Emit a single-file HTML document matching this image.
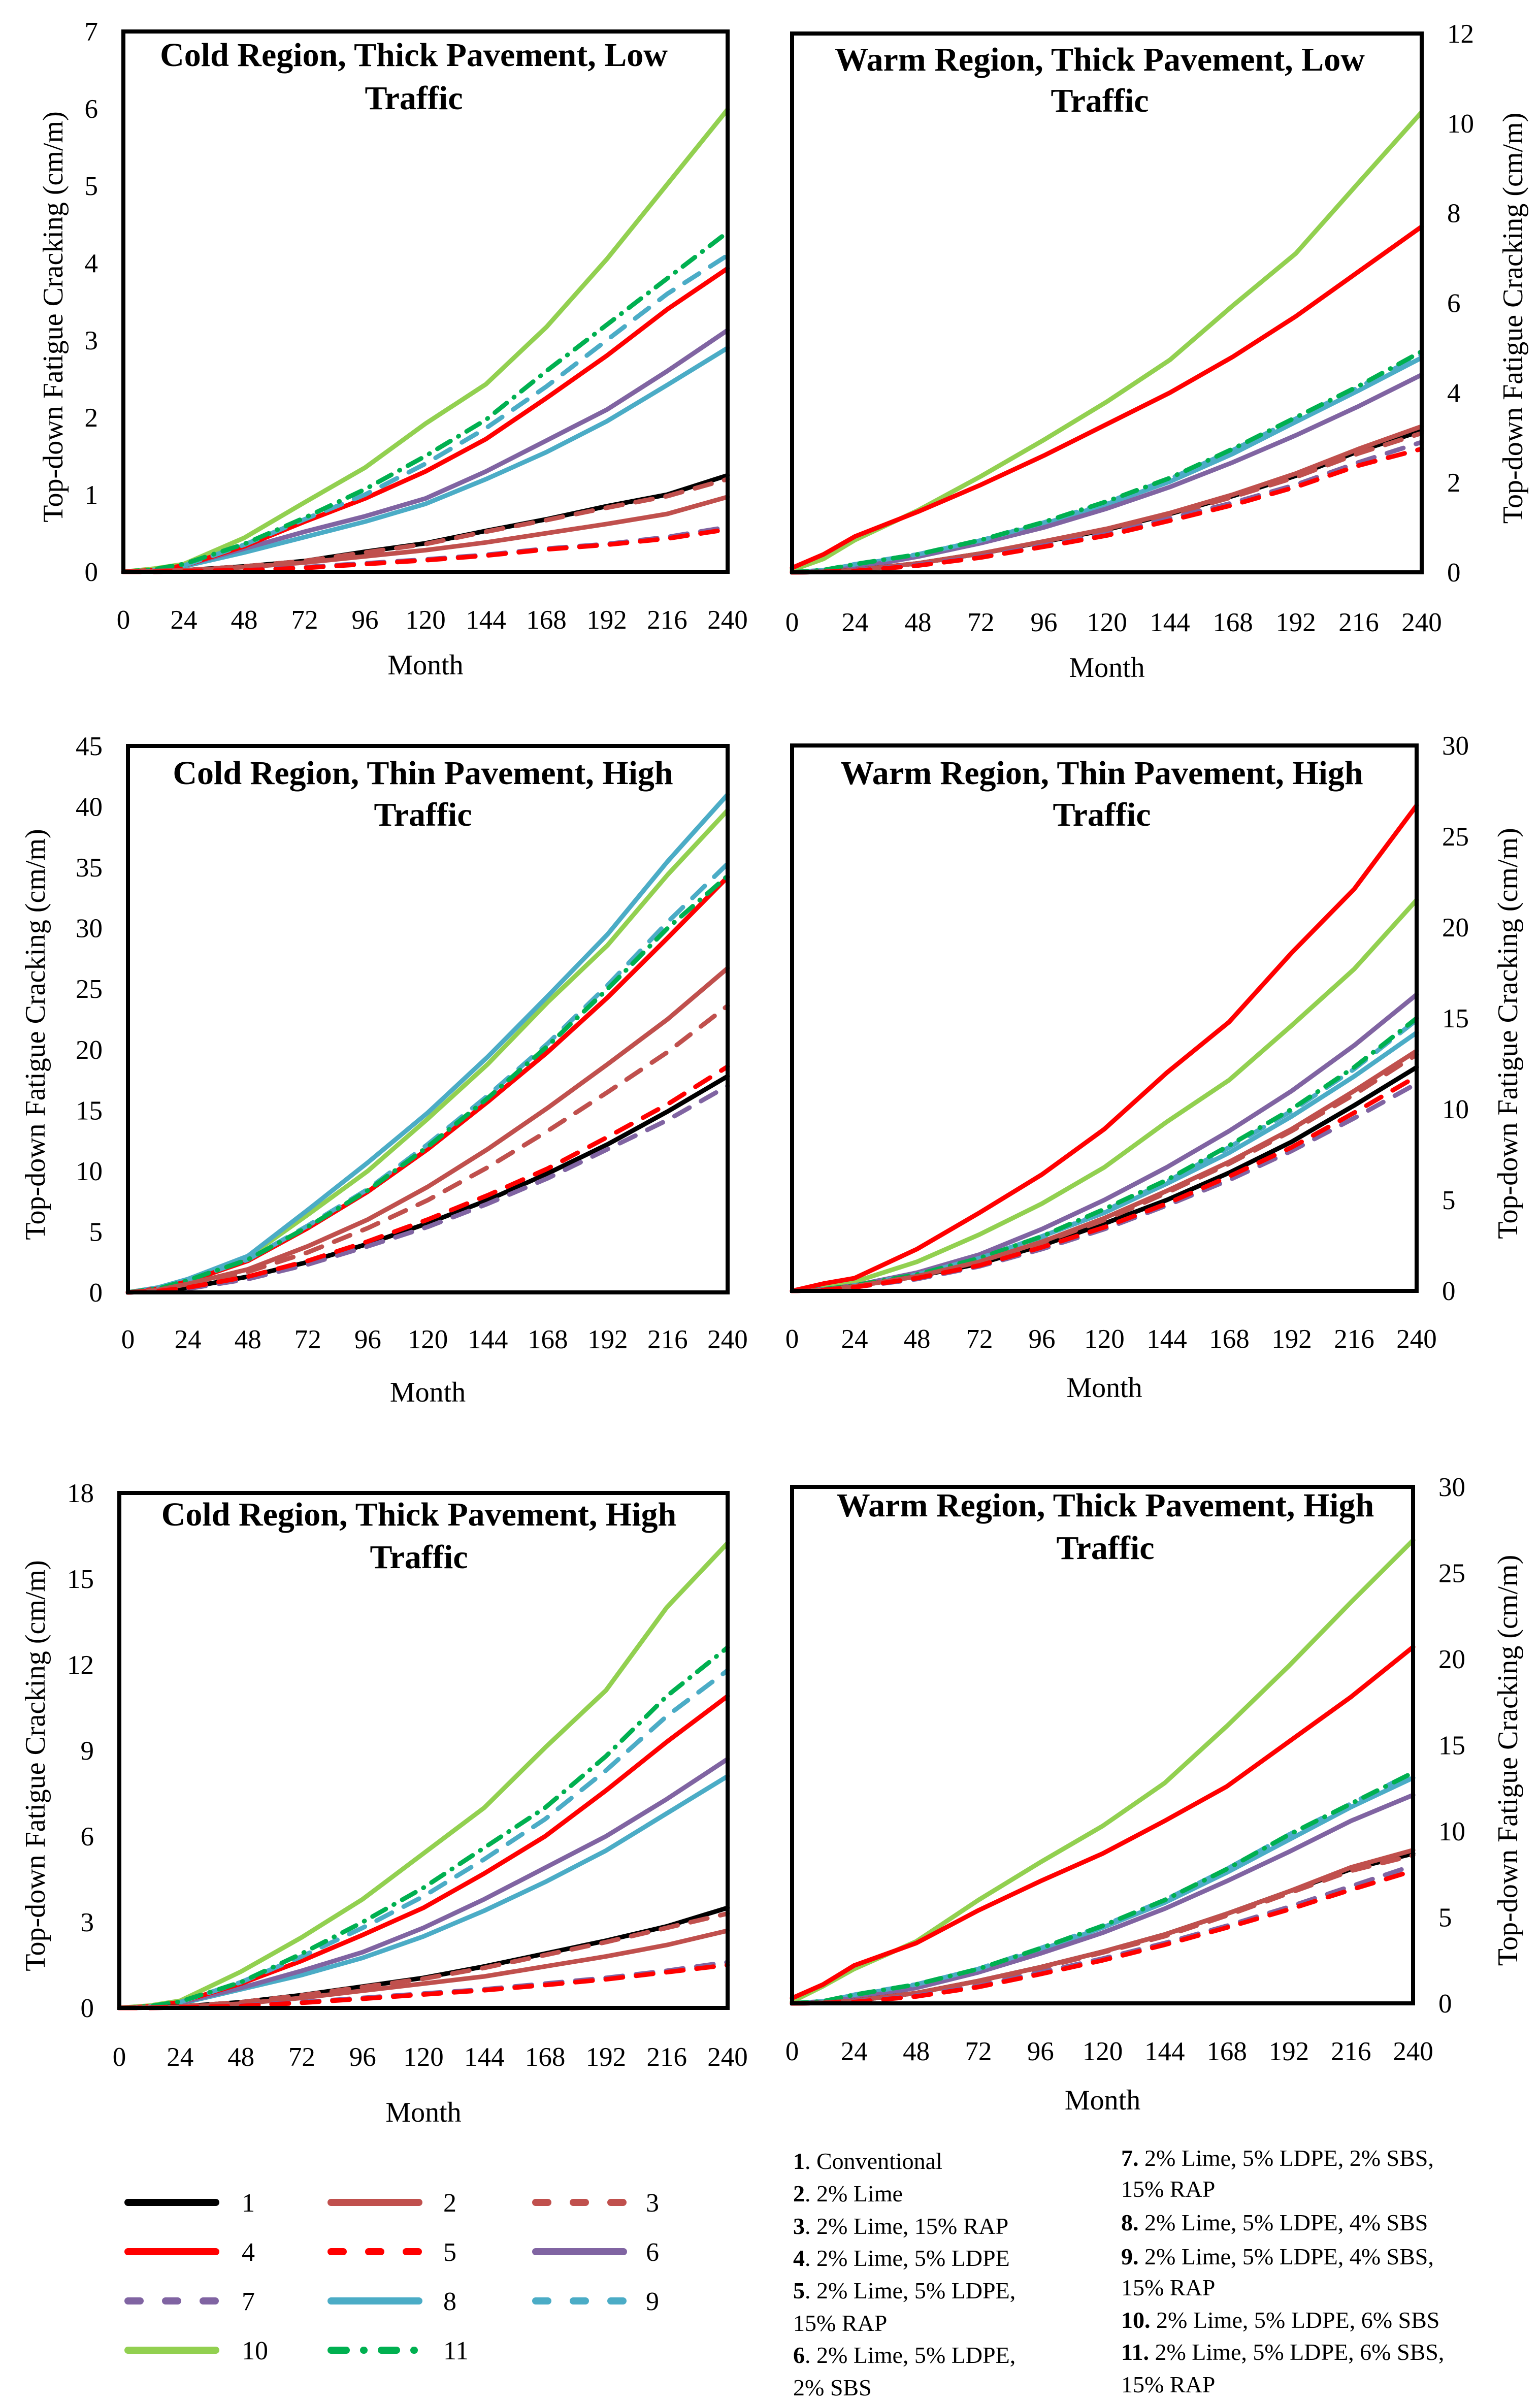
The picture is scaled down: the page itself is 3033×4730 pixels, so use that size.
<!DOCTYPE html>
<html><head><meta charset="utf-8">
<style>
html,body{margin:0;padding:0;background:#fff;}
svg{display:block;}
text{font-family:"Liberation Serif",serif;fill:#000;}
</style></head>
<body>
<svg id="fig" width="3033" height="4730" viewBox="0 0 3033 4730" xmlns="http://www.w3.org/2000/svg"></svg>
<script>
// ---- shared data ----
const months = [0,12,24,48,72,96,120,144,168,192,216,240];
const xTicks = [0,24,48,72,96,120,144,168,192,216,240];
const seriesIds = ['1','2','3','4','5','6','7','8','9','10','11'];
const seriesNames = ['Conventional','2% Lime','2% Lime, 15% RAP','2% Lime, 5% LDPE','2% Lime, 5% LDPE, 15% RAP','2% Lime, 5% LDPE, 2% SBS','2% Lime, 5% LDPE, 2% SBS, 15% RAP','2% Lime, 5% LDPE, 4% SBS','2% Lime, 5% LDPE, 4% SBS, 15% RAP','2% Lime, 5% LDPE, 6% SBS','2% Lime, 5% LDPE, 6% SBS, 15% RAP'];

// Panel 1: Cold, thick, low  (series 1..11)
const p1s1 = [0,0.01,0.02,0.07,0.14,0.26,0.37,0.53,0.68,0.85,1.0,1.25];
const p1s2 = [0,0.01,0.02,0.06,0.12,0.2,0.28,0.38,0.5,0.62,0.75,0.97];
const p1s3 = [0,0.01,0.02,0.07,0.14,0.25,0.36,0.52,0.67,0.83,0.98,1.2];
const p1s4 = [0,0.02,0.08,0.33,0.65,0.95,1.3,1.72,2.25,2.8,3.4,3.93];
const p1s5 = [0,0,0.01,0.02,0.05,0.1,0.15,0.21,0.29,0.35,0.43,0.55];
const p1s6 = [0,0.02,0.08,0.3,0.52,0.72,0.95,1.3,1.7,2.1,2.6,3.13];
const p1s7 = [0,0,0.01,0.02,0.06,0.11,0.16,0.22,0.3,0.36,0.45,0.58];
const p1s8 = [0,0.02,0.07,0.25,0.45,0.65,0.88,1.2,1.55,1.95,2.42,2.9];
const p1s9 = [0,0.02,0.08,0.35,0.68,1.0,1.4,1.86,2.4,3.0,3.6,4.1];
const p1s10 = [0,0.04,0.1,0.44,0.9,1.35,1.92,2.43,3.17,4.05,5.02,5.99];
const p1s11 = [0,0.03,0.1,0.36,0.7,1.07,1.5,1.97,2.6,3.2,3.8,4.4];
// Panel 2: Warm, thick, low
const p2s1 = [0,0.01,0.05,0.2,0.42,0.68,0.95,1.3,1.7,2.15,2.7,3.15];
const p2s2 = [0,0.01,0.05,0.2,0.42,0.69,0.97,1.32,1.73,2.2,2.75,3.25];
const p2s3 = [0,0.01,0.05,0.19,0.41,0.67,0.94,1.28,1.68,2.12,2.65,3.1];
const p2s4 = [0.1,0.4,0.8,1.35,1.95,2.6,3.3,4.0,4.8,5.7,6.7,7.7];
const p2s5 = [0,0.01,0.03,0.15,0.33,0.57,0.82,1.15,1.5,1.9,2.38,2.75];
const p2s6 = [0,0.03,0.1,0.35,0.65,1.0,1.42,1.9,2.45,3.05,3.7,4.4];
const p2s7 = [0,0.01,0.04,0.17,0.35,0.6,0.85,1.2,1.55,1.95,2.45,2.9];
const p2s8 = [0,0.05,0.17,0.38,0.69,1.08,1.52,2.02,2.64,3.35,4.05,4.78];
const p2s9 = [0,0.05,0.18,0.4,0.71,1.11,1.56,2.08,2.72,3.42,4.12,4.85];
const p2s10 = [0.05,0.3,0.72,1.38,2.14,2.95,3.8,4.73,5.94,7.1,8.68,10.25];
const p2s11 = [0,0.05,0.18,0.4,0.72,1.12,1.58,2.1,2.75,3.45,4.15,4.92];
// Panel 3: Cold, thin, high
const p3s1 = [0,0.1,0.4,1.3,2.5,4.0,5.7,7.6,9.8,12.2,14.9,17.8];
const p3s2 = [0,0.2,0.7,1.9,3.8,6.0,8.7,11.8,15.2,18.8,22.5,26.7];
const p3s3 = [0,0.2,0.6,1.7,3.3,5.3,7.6,10.3,13.3,16.5,19.8,23.6];
const p3s4 = [0,0.3,0.9,2.6,5.3,8.3,11.8,15.7,19.8,24.3,29.2,34.2];
const p3s5 = [0,0.1,0.4,1.3,2.6,4.2,6.0,8.0,10.2,12.8,15.5,18.6];
const p3s6 = [0,0.3,0.9,2.6,5.3,8.3,11.8,15.7,19.8,24.3,29.2,34.2];
const p3s7 = [0,0.1,0.3,1.1,2.3,3.8,5.4,7.3,9.4,11.8,14.2,17.0];
const p3s8 = [0,0.4,1.1,3.0,6.8,10.7,14.8,19.4,24.4,29.5,35.5,41.0];
const p3s9 = [0,0.3,1.0,2.7,5.5,8.5,12.2,16.2,20.5,25.3,30.5,35.3];
const p3s10 = [0,0.4,1.0,2.9,6.4,10.0,14.3,18.8,23.9,28.6,34.4,39.7];
const p3s11 = [0,0.3,1.0,2.7,5.4,8.4,12.0,16.0,20.3,25.0,30.0,34.3];
// Panel 4: Warm, thin, high
const p4s1 = [0,0.05,0.25,0.8,1.5,2.5,3.7,5.0,6.5,8.2,10.2,12.3];
const p4s2 = [0,0.05,0.25,0.8,1.6,2.7,4.0,5.5,7.1,8.9,11.0,13.2];
const p4s3 = [0,0.05,0.25,0.8,1.55,2.65,3.9,5.4,7.0,8.8,10.8,13.0];
const p4s4 = [0,0.4,0.7,2.3,4.3,6.4,8.9,12.0,14.8,18.6,22.1,26.7];
const p4s5 = [0,0.05,0.2,0.7,1.4,2.4,3.5,4.8,6.3,7.9,9.8,11.8];
const p4s6 = [0,0.08,0.3,1.0,2.0,3.4,5.0,6.8,8.8,11.0,13.5,16.3];
const p4s7 = [0,0.05,0.2,0.65,1.35,2.3,3.4,4.7,6.1,7.7,9.5,11.4];
const p4s8 = [0,0.08,0.3,0.9,1.8,3.0,4.3,5.9,7.6,9.6,11.8,14.2];
const p4s9 = [0,0.08,0.3,0.9,1.8,2.95,4.4,6.0,7.9,9.9,12.2,14.9];
const p4s10 = [0,0.2,0.5,1.6,3.1,4.8,6.8,9.3,11.6,14.6,17.7,21.5];
const p4s11 = [0,0.08,0.3,0.9,1.8,3.0,4.5,6.1,8.0,10.0,12.3,15.0];
// Panel 5: Cold, thick, high
const p5s1 = [0,0.01,0.05,0.2,0.45,0.75,1.05,1.45,1.9,2.35,2.85,3.5];
const p5s2 = [0,0.01,0.04,0.15,0.35,0.6,0.85,1.1,1.45,1.8,2.2,2.7];
const p5s3 = [0,0.01,0.05,0.2,0.44,0.73,1.02,1.4,1.85,2.3,2.8,3.3];
const p5s4 = [0,0.05,0.2,0.85,1.65,2.55,3.5,4.7,6.0,7.6,9.3,10.9];
const p5s5 = [0,0,0.02,0.07,0.18,0.32,0.47,0.62,0.8,1.0,1.25,1.5];
const p5s6 = [0,0.05,0.18,0.7,1.3,1.95,2.8,3.8,4.9,6.0,7.3,8.7];
const p5s7 = [0,0,0.02,0.08,0.2,0.35,0.5,0.65,0.85,1.05,1.3,1.6];
const p5s8 = [0,0.04,0.15,0.65,1.15,1.75,2.5,3.4,4.4,5.5,6.8,8.1];
const p5s9 = [0,0.05,0.2,0.9,1.8,2.8,3.9,5.2,6.6,8.3,10.2,11.8];
const p5s10 = [0,0.08,0.25,1.27,2.47,3.8,5.4,7.0,9.1,11.1,14.0,16.25];
const p5s11 = [0,0.06,0.22,0.9,1.9,3.0,4.2,5.6,7.0,8.8,10.9,12.6];
// Panel 6: Warm, thick, high
const p6s1 = [0,0.03,0.15,0.6,1.3,2.1,3.0,4.0,5.2,6.5,7.8,8.7];
const p6s2 = [0,0.03,0.15,0.6,1.3,2.1,3.0,4.0,5.2,6.5,7.9,8.9];
const p6s3 = [0,0.03,0.14,0.58,1.27,2.05,2.95,3.9,5.1,6.4,7.7,8.6];
const p6s4 = [0.3,1.1,2.2,3.5,5.4,7.1,8.7,10.6,12.6,15.2,17.8,20.7];
const p6s5 = [0,0.02,0.08,0.4,0.95,1.7,2.5,3.4,4.4,5.45,6.6,7.7];
const p6s6 = [0,0.08,0.3,0.9,1.8,2.9,4.1,5.5,7.1,8.8,10.6,12.1];
const p6s7 = [0,0.02,0.1,0.45,1.0,1.8,2.6,3.5,4.5,5.6,6.8,8.0];
const p6s8 = [0,0.12,0.48,1.05,1.95,3.1,4.4,5.85,7.6,9.5,11.4,13.1];
const p6s9 = [0,0.12,0.5,1.1,2.0,3.2,4.5,6.0,7.8,9.8,11.6,13.4];
const p6s10 = [0.1,1.0,2.0,3.6,6.0,8.2,10.3,12.8,16.1,19.6,23.3,26.9];
const p6s11 = [0,0.12,0.5,1.1,2.0,3.2,4.5,6.0,7.8,9.8,11.6,13.4];

// y-axis tick labels per panel
const p1Ticks = [0,1,2,3,4,5,6,7];
const p2Ticks = [0,2,4,6,8,10,12];
const p3Ticks = [0,5,10,15,20,25,30,35,40,45];
const p4Ticks = [0,5,10,15,20,25,30];
const p5Ticks = [0,3,6,9,12,15,18];
const p6Ticks = [0,5,10,15,20,25,30];

// ---- styles (not data) ----
const styles = [
 {c:'#000000',d:null},
 {c:'#C0504D',d:null},
 {c:'#C0504D',d:'34 26'},
 {c:'#FF0000',d:null},
 {c:'#FF0000',d:'34 26'},
 {c:'#8064A2',d:null},
 {c:'#8064A2',d:'34 26'},
 {c:'#4BACC6',d:null},
 {c:'#4BACC6',d:'34 26'},
 {c:'#92D050',d:null},
 {c:'#00B050',d:'30 18 1 18'}
];
const drawOrder = [9,7,5,3,8,10,0,1,2,6,4];

const svg = document.getElementById('fig');
const NS = 'http://www.w3.org/2000/svg';
function mk(tag, attrs, parent){
  const e = document.createElementNS(NS, tag);
  for (const k in attrs) e.setAttribute(k, attrs[k]);
  (parent||svg).appendChild(e);
  return e;
}

const panels = [
 {key:'cold-thick-low', box:[243,62,1433,1126], max:7, ticks:p1Ticks, side:'left', data:[p1s1,p1s2,p1s3,p1s4,p1s5,p1s6,p1s7,p1s8,p1s9,p1s10,p1s11], title:['Cold Region, Thick Pavement, Low','Traffic'], tcx:815, tb:[130,215], xl:1220, month:1310, ylx:105},
 {key:'warm-thick-low', box:[1560,66,2800,1127], max:12, ticks:p2Ticks, side:'right', data:[p2s1,p2s2,p2s3,p2s4,p2s5,p2s6,p2s7,p2s8,p2s9,p2s10,p2s11], title:['Warm Region, Thick Pavement, Low','Traffic'], tcx:2166, tb:[139,220], xl:1225, month:1315, ylx:2980},
 {key:'cold-thin-high', box:[252,1469,1433,2545], max:45, ticks:p3Ticks, side:'left', data:[p3s1,p3s2,p3s3,p3s4,p3s5,p3s6,p3s7,p3s8,p3s9,p3s10,p3s11], title:['Cold Region, Thin Pavement, High','Traffic'], tcx:833, tb:[1544,1626], xl:2637, month:2742, ylx:70},
 {key:'warm-thin-high', box:[1560,1468,2790,2542], max:30, ticks:p4Ticks, side:'right', data:[p4s1,p4s2,p4s3,p4s4,p4s5,p4s6,p4s7,p4s8,p4s9,p4s10,p4s11], title:['Warm Region, Thin Pavement, High','Traffic'], tcx:2170, tb:[1544,1626], xl:2636, month:2733, ylx:2970},
 {key:'cold-thick-high', box:[235,2940,1433,3954], max:18, ticks:p5Ticks, side:'left', data:[p5s1,p5s2,p5s3,p5s4,p5s5,p5s6,p5s7,p5s8,p5s9,p5s10,p5s11], title:['Cold Region, Thick Pavement, High','Traffic'], tcx:825, tb:[3004,3088], xl:4050, month:4160, ylx:70},
 {key:'warm-thick-high', box:[1560,2928,2783,3945], max:30, ticks:p6Ticks, side:'right', data:[p6s1,p6s2,p6s3,p6s4,p6s5,p6s6,p6s7,p6s8,p6s9,p6s10,p6s11], title:['Warm Region, Thick Pavement, High','Traffic'], tcx:2177, tb:[2986,3070], xl:4039, month:4136, ylx:2970}
];

panels.forEach(p=>{
  const [x0,y0,x1,y1] = p.box;
  const g = mk('g',{});
  
  
  const sx = m => x0 + (m/240)*(x1-x0);
  const sy = v => y1 - (v/p.max)*(y1-y0);
  const sg = mk('g',{},g);
  drawOrder.forEach(i=>{
    const pts = months.map((m,j)=>sx(m).toFixed(1)+','+sy(p.data[i][j]).toFixed(1)).join(' ');
    const a = {points:pts, fill:'none', stroke:styles[i].c, 'stroke-width':9, 'stroke-linejoin':'round', 'stroke-linecap':'round'};
    if (styles[i].d) a['stroke-dasharray'] = styles[i].d;
    const pl = mk('polyline', a, sg);
    
    
  });
  const fr = mk('rect',{x:x0,y:y0,width:x1-x0,height:y1-y0,fill:'none',stroke:'#000','stroke-width':8},g);
  
  
  xTicks.forEach(t=>{
    const tx = mk('text',{x:sx(t),y:p.xl+18,'font-size':53,'text-anchor':'middle'},g);
    tx.textContent = t;
    
    
  });
  p.ticks.forEach(t=>{
    const a = p.side==='left' ? {x:x0-50,'text-anchor':'end'} : {x:x1+50,'text-anchor':'start'};
    a.y = sy(t)+18; a['font-size']=53;
    const tx = mk('text',a,g);
    tx.textContent = t;
    
    
  });
  const mt = mk('text',{x:(x0+x1)/2,y:p.month+18,'font-size':56,'text-anchor':'middle'},g);
  mt.textContent = 'Month';
  
  
  const yc = (y0+y1)/2 + 30;
  const yt = mk('text',{x:p.ylx,y:yc,'font-size':56,'text-anchor':'middle','dominant-baseline':'central',transform:'rotate(-90 '+p.ylx+' '+yc+')'},g);
  yt.textContent = 'Top-down Fatigue Cracking (cm/m)';
  
  
  p.title.forEach((line,k)=>{
    const tt = mk('text',{x:p.tcx,y:p.tb[k],'font-size':66,'font-weight':'bold','text-anchor':'middle'},g);
    tt.textContent = line;
    
    
  });
});

// ---- legend (line samples) ----
const legCols = [[252,425,476],[652,825,873],[1055,1228,1272]];
const legRows = [4337,4434,4531,4628];
const lg = mk('g',{});


for (let i=0;i<11;i++){
  const r = Math.floor(i/3), c = i%3;
  const [a,b,lx] = legCols[c];
  const y = legRows[r];
  const at = {x1:a,y1:y,x2:b,y2:y,stroke:styles[i].c,'stroke-width':14,'stroke-linecap':'round'};
  if (styles[i].d) at['stroke-dasharray'] = (i===10) ? '30 34 1 34' : '24 50';
  const ln = mk('line',at,lg);
  
  
  const t = mk('text',{x:lx,y:y+18,'font-size':52},lg);
  t.textContent = seriesIds[i];
  
  
}
const col1 = [['1','. Conventional'],['2','. 2% Lime'],['3','. 2% Lime, 15% RAP'],['4','. 2% Lime, 5% LDPE'],['5','. 2% Lime, 5% LDPE,'],['','15% RAP'],['6','. 2% Lime, 5% LDPE,'],['','2% SBS']];
const col1y = [4255,4319,4383,4446,4510,4574,4637,4701];
const col2 = [['7.',' 2% Lime, 5% LDPE, 2% SBS,'],['','15% RAP'],['8.',' 2% Lime, 5% LDPE, 4% SBS'],['9.',' 2% Lime, 5% LDPE, 4% SBS,'],['','15% RAP'],['10.',' 2% Lime, 5% LDPE, 6% SBS'],['11.',' 2% Lime, 5% LDPE, 6% SBS,'],['','15% RAP']];
const col2y = [4249,4310,4376,4443,4504,4568,4631,4695];
function descCol(rows, ys, x){
  rows.forEach((r,k)=>{
    const t = mk('text',{x:x,y:ys[k]+16,'font-size':46},lg);
    
    
    if (r[0]){ const b = mk('tspan',{'font-weight':'bold'},t); b.textContent = r[0]; }
    const s = mk('tspan',{},t); s.textContent = r[1];
  });
}
descCol(col1,col1y,1562);
descCol(col2,col2y,2208);
</script>
</body></html>
